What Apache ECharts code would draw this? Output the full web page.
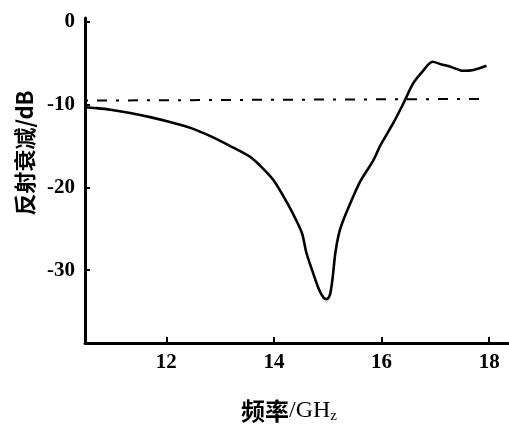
<!DOCTYPE html>
<html><head><meta charset="utf-8">
<script src="https://cdn.jsdelivr.net/npm/echarts@6/dist/echarts.min.js"></script>
<style>html,body{margin:0;padding:0;background:#fff}#c{width:509px;height:426px}</style>
</head><body><div id="c"></div>
<script>
const freq = [10.49,10.68,10.96,11.33,11.70,12.07,12.45,12.82,13.19,13.56,13.75,13.99,14.25,14.44,14.53,14.60,14.71,14.83,14.92,14.98,15.04,15.09,15.14,15.20,15.27,15.42,15.61,15.85,15.98,16.22,16.41,16.59,16.76,16.95,17.10,17.28,17.52,17.71,17.95];
const loss = [-10.3,-10.4,-10.6,-11.0,-11.5,-12.1,-12.8,-13.8,-15.0,-16.3,-17.4,-19.1,-21.9,-24.3,-25.7,-27.8,-30.0,-32.2,-33.3,-33.5,-33.0,-31.0,-28.0,-25.8,-24.3,-21.9,-19.2,-16.7,-14.9,-12.2,-9.8,-7.4,-6.0,-4.8,-5.1,-5.4,-5.9,-5.8,-5.3];
const refFreq = [10.49, 17.83];
const refLoss = [-9.5, -9.3];
const xTicks = [12, 14, 16, 18];
const yTicks = [0, -10, -20, -30];

const chart = echarts.init(document.getElementById('c'));
const labelFont = {fontFamily: 'Liberation Serif', fontSize: 21, fontWeight: 'bold', color: '#000'};
chart.setOption({
  animation: false,
  grid: {left: 85, right: 1, top: 18, bottom: 83},
  xAxis: {
    type: 'value', min: 10.49, max: 18.35,
    splitLine: {show: false},
    axisLine: {onZero: false, lineStyle: {color: '#000', width: 3}},
    axisTick: {inside: true, length: 6, lineStyle: {color: '#000', width: 2}, customValues: xTicks},
    axisLabel: Object.assign({margin: 9, customValues: xTicks}, labelFont)
  },
  yAxis: {
    type: 'value', min: -38.8, max: 0.48,
    splitLine: {show: false},
    axisLine: {show: true, onZero: false, lineStyle: {color: '#000', width: 3}},
    axisTick: {show: true, inside: true, length: 5, lineStyle: {color: '#000', width: 2}, customValues: yTicks},
    axisLabel: Object.assign({margin: 10, customValues: yTicks}, labelFont)
  },
  graphic: [
    {type: 'text', x: 25, y: 153, rotation: Math.PI / 2,
     style: {text: '反射衰减/dB', font: 'bold 22px "Noto Sans CJK SC"', fill: '#000', align: 'center', verticalAlign: 'middle'}},
    {type: 'text', x: 289, y: 411,
     style: {rich: {c: {font: 'bold 24px "Noto Sans CJK SC"', fill: '#000'}, s: {font: '24px "Liberation Serif"', fill: '#000'}, z: {font: '15px "Liberation Serif"', fill: '#000', padding: [11, 0, 0, 0]}},
       text: '{c|频率}{s|/GH}{z|z}', align: 'center', verticalAlign: 'middle'}}
  ],
  series: [
    {type: 'line', data: freq.map((f, i) => [f, loss[i]]), smooth: 0.3, showSymbol: false,
     lineStyle: {color: '#000', width: 2.6}},
    {type: 'line', data: refFreq.map((f, i) => [f, refLoss[i]]), showSymbol: false,
     lineStyle: {color: '#000', width: 2, type: [3, 9, 10, 9]}}
  ]
});
</script></body></html>
